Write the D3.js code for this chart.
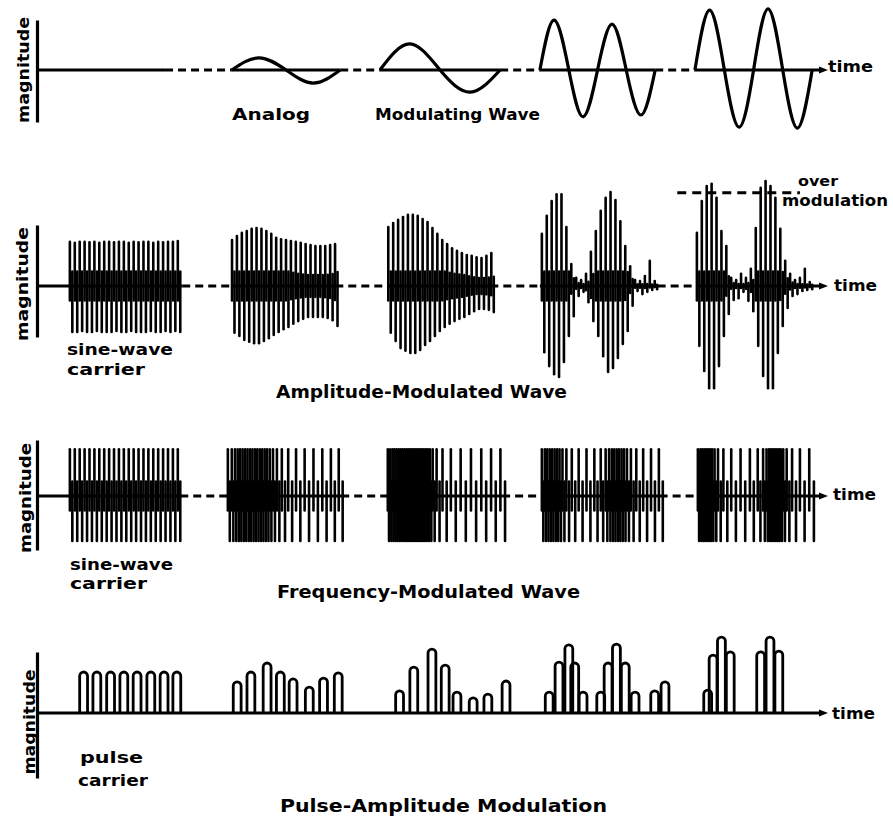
<!DOCTYPE html>
<html><head><meta charset="utf-8">
<script src="https://cdn.jsdelivr.net/npm/d3@7/dist/d3.min.js"></script>
<style>
body{margin:0;background:#fff}
svg{display:block}
text{font-family:"DejaVu Sans",sans-serif;font-weight:bold;fill:#000}
</style>
</head><body>
<svg id="chart" width="893" height="819"></svg>
<script>
// ---------------- DATA ----------------
const timeDomain = [0, 160];

// Panel 1: analog modulating wave (magnitude in % of carrier amplitude)
const analogSpans = [[0, 26.1], [39.7, 61.8], [69.9, 94.4], [102.5, 126.0], [134.1, 160]];
const analogWaveTimes = [
  [39.7, 45.2, 50.75, 56.3, 61.8],
  [69.9, 76.0, 82.15, 88.3, 94.4],
  [102.5, 105.4, 108.4, 111.3, 114.25, 117.2, 120.1, 123.1, 126.0],
  [134.1, 137.1, 140.1, 143.1, 146.05, 149.0, 152.0, 155.0, 158.0]
];
const analogWaveValues = [
  [0, 27, 0, -29, 0],
  [0, 58, 0, -49, 0],
  [0, 111, 0, -104, 0, 102, 0, -100, 0],
  [0, 133, 0, -127, 0, 136, 0, -129, 0]
];
const analogLabels = ["Analog", "Modulating Wave"];

// Panel 2: amplitude-modulated wave
const amSpans = [[0, 29.6], [39.7, 60.8], [71.5, 92.4], [102.5, 126.5], [134.5, 160]];
const amStart = [6.7, 39.75, 71.6, 102.9, 134.5];
const amUpper = [
  [98,96,98,98,97,98,96,98,98,97,98,98,96,98,97,98,98,96,98,97,98,98,100],
  [102,111,118,122,127,129,127,122,116,107,104,102,100,98,96,93,91,89,89,89,91,93],
  [131,140,147,153,158,158,156,149,142,129,116,102,93,84,78,73,69,67,64,62,67,73],
  [116,156,189,204,204,131,49,18,13,27,76,122,167,196,209,191,144,89,44,13,11,22,56,11],
  [118,189,222,227,196,122,89,18,13,27,18,38,129,218,233,222,196,127,56,27,13,18,38,9]
];
const amLower = [
  [102,102,100,102,102,100,102,102,102,100,102,102,100,102,102,102,100,102,102,100,102,100,102],
  [104,111,120,124,127,127,122,116,109,102,96,91,84,78,73,69,69,69,69,71,76,89],
  [104,122,138,144,149,149,142,131,122,111,100,91,84,78,73,69,62,56,51,51,53,58],
  [147,178,196,202,169,111,67,22,13,36,78,111,156,191,182,160,129,100,44,11,18,13,9,7],
  [133,189,227,227,178,111,62,31,27,13,33,56,133,200,227,227,149,89,49,22,18,11,9,7]
];
const overModulationLevel = 207;
const overModulationSpan = [130.5, 155.5];

// Panel 3: frequency-modulated wave
const fmSpans = [[0, 29.2], [38.9, 62.0], [71.5, 94.8], [102.9, 126.9], [134.7, 160]];
const fmStart = [6.7, 38.9, 71.5, 102.9, 134.7];
const fmGaps = [
  [1,1,1,1,1,1,1,1,1,1,1,1,1,1,1,1,1,1,1,1,1,1],
  [0.8,0.65,0.55,0.5,0.5,0.5,0.5,0.5,0.5,0.5,0.5,0.5,0.5,0.5,0.5,0.55,0.65,0.8,1.0,1.3,1.6,1.75,1.8,1.8,1.75,1.6],
  [0.5,0.45,0.4,0.4,0.4,0.4,0.4,0.4,0.4,0.4,0.4,0.4,0.4,0.4,0.4,0.4,0.4,0.4,0.4,0.4,0.45,0.55,0.8,1.2,1.7,2.0,2.1,2.1,2.0,1.9],
  [0.6,0.5,0.5,0.5,0.5,0.5,0.5,0.6,0.8,1.1,1.4,1.6,1.6,1.3,1.0,0.7,0.55,0.5,0.5,0.5,0.5,0.5,0.6,0.8,1.1,1.4,1.6,1.6],
  [0.5,0.4,0.4,0.4,0.4,0.4,0.4,0.5,0.7,1.1,1.6,1.9,1.9,1.6,1.1,0.7,0.5,0.4,0.4,0.4,0.4,0.4,0.4,0.5,0.7,1.1,1.6,1.9]
];
const fmPeak = [104, 100]; // upper, lower

// Panel 4: pulse-amplitude modulation
const pamTimes = [
  [9.5,12.2,15.0,17.7,20.4,23.2,25.9,28.5],
  [40.8,43.6,46.9,49.6,52.2,55.5,58.4,61.4],
  [73.9,76.8,80.5,83.2,85.6,88.9,91.9,95.6],
  [104.4,106.4,108.4,109.6,111.3,114.9,116.4,118.1,119.9,121.9,125.9,128.0],
  [136.7,137.8,139.5,141.3,147.5,149.4,151.2]
];
const pamHeights = [
  [100,100,100,100,100,100,100,100],
  [76,100,122,100,83,63,85,98],
  [54,112,156,117,51,37,46,78],
  [51,124,166,122,51,51,122,168,122,51,54,76],
  [56,141,185,149,149,185,151]
];

const panelTitles = ["Amplitude-Modulated Wave", "Frequency-Modulated Wave", "Pulse-Amplitude Modulation"];
const carrierLabels = [["sine-wave", "carrier"], ["sine-wave", "carrier"], ["pulse", "carrier"]];
const axisTitle = "magnitude";
const timeLabel = "time";

// ---------------- LAYOUT ----------------
const svg = d3.select("#chart");
const x = d3.scaleLinear().domain(timeDomain).range([37, 822]);
const layout = [
  {base: 70,  top: 20,  bot: 122, unit: 0.45, magX: 29, magY: 70,  magLen: 106, timeX: 828, timeY: 72,  timeLen: 45},
  {base: 286, top: 225, bot: 337, unit: 0.45, magX: 28, magY: 284, magLen: 114, timeX: 834, timeY: 291, timeLen: 43},
  {base: 496, top: 440, bot: 550, unit: 0.45, magX: 31, magY: 498, magLen: 110, timeX: 833, timeY: 500, timeLen: 43},
  {base: 713, top: 652, bot: 778, unit: 0.41, magX: 35, magY: 722, magLen: 105, timeX: 832, timeY: 719, timeLen: 43}
];
const yScales = layout.map(L => d3.scaleLinear().domain([-100, 100]).range([L.base + 100 * L.unit, L.base - 100 * L.unit]));

function label(txt, x0, y0, len, size, g) {
  (g || svg).append("text").attr("x", x0).attr("y", y0).attr("font-size", size)
    .attr("textLength", len).attr("lengthAdjust", "spacingAndGlyphs").text(txt);
}

function drawFrame(i, spans, dashed) {
  const L = layout[i];
  const g = svg.append("g");
  const ay = d3.scaleLinear().domain([0, 1]).range([L.bot, L.top]);
  const ax = g.append("g").attr("transform", `translate(${x(0)},0)`)
    .call(d3.axisLeft(ay).tickValues([]).tickSizeOuter(0));
  ax.select(".domain").attr("stroke", "#000").attr("stroke-width", 3.2);
  spans.forEach((s, k) => {
    g.append("line").attr("x1", x(s[0])).attr("x2", x(s[1])).attr("y1", L.base).attr("y2", L.base)
      .attr("stroke", "#000").attr("stroke-width", 3.2);
    if (k < spans.length - 1) {
      const n = spans[k + 1];
      g.append("line").attr("x1", x(s[1])).attr("x2", x(n[0])).attr("y1", L.base).attr("y2", L.base)
        .attr("stroke", "#000").attr("stroke-width", 3.2)
        .attr("stroke-dasharray", dashed ? "8,5" : null);
    }
  });
  const ex = x(timeDomain[1]);
  g.append("path").attr("d", `M${ex - 3},${L.base - 3.5} L${ex + 6},${L.base} L${ex - 3},${L.base + 3.5} Z`).attr("fill", "#000");
  label(timeLabel, L.timeX, L.timeY, L.timeLen, 15, g);
  g.append("text").attr("transform", `translate(${L.magX},${L.magY}) rotate(-90)`)
    .attr("text-anchor", "middle").attr("font-size", 16)
    .attr("textLength", L.magLen).attr("lengthAdjust", "spacingAndGlyphs").text(axisTitle);
}

// ---------- Panel 1 ----------
drawFrame(0, analogSpans, true);
{
  const y = yScales[0];
  const line = d3.line().x(d => x(d[0])).y(d => y(d[1])).curve(d3.curveNatural);
  analogWaveTimes.forEach((ts, k) => {
    svg.append("path").attr("d", line(ts.map((t, j) => [t, analogWaveValues[k][j]])))
      .attr("fill", "none").attr("stroke", "#000").attr("stroke-width", 3.2);
  });
  label(analogLabels[0], 232, 120, 78, 15);
  label(analogLabels[1], 375, 120, 165, 15);
}

function drawStrokes(y, strokes) {
  const g = svg.append("g").attr("stroke", "#000").attr("stroke-width", 2.6).attr("stroke-linecap", "round");
  strokes.forEach(s => {
    const ovl = Math.min(32, 0.35 * Math.min(s.up, s.down));
    g.append("line").attr("x1", x(s.t)).attr("x2", x(s.t)).attr("y1", y(-ovl)).attr("y2", y(s.up));
    g.append("line").attr("x1", x(s.t + s.half)).attr("x2", x(s.t + s.half)).attr("y1", y(ovl)).attr("y2", y(-s.down));
  });
}

// ---------- Panel 2: AM ----------
drawFrame(1, amSpans, true);
{
  const y = yScales[1];
  amStart.forEach((t0, k) => {
    const strokes = amUpper[k].map((u, i) => ({t: t0 + i, half: 0.5, up: u, down: amLower[k][i]}));
    drawStrokes(y, strokes);
  });
  svg.append("line").attr("x1", x(overModulationSpan[0])).attr("x2", x(overModulationSpan[1]))
    .attr("y1", y(overModulationLevel)).attr("y2", y(overModulationLevel))
    .attr("stroke", "#000").attr("stroke-width", 3).attr("stroke-dasharray", "9,6");
  label("over", 798, 186, 40, 14);
  label("modulation", 782, 206, 106, 15);
  label(carrierLabels[0][0], 67, 355, 106, 16);
  label(carrierLabels[0][1], 67, 375, 78, 16);
  label(panelTitles[0], 276, 398, 291, 17);
}

// ---------- Panel 3: FM ----------
drawFrame(2, fmSpans, true);
{
  const y = yScales[2];
  fmStart.forEach((t0, k) => {
    const gaps = fmGaps[k];
    const strokes = [];
    let t = t0;
    for (let i = 0; i <= gaps.length; i++) {
      const gap = gaps[Math.min(i, gaps.length - 1)];
      strokes.push({t: t, half: gap / 2, up: fmPeak[0], down: fmPeak[1]});
      if (i < gaps.length) t += gaps[i];
    }
    drawStrokes(y, strokes);
  });
  label(carrierLabels[1][0], 70, 570, 103, 16);
  label(carrierLabels[1][1], 70, 589, 77, 16);
  label(panelTitles[1], 277, 598, 303, 17);
}

// ---------- Panel 4: PAM ----------
drawFrame(3, [[0, 160]], false);
{
  const y = yScales[3];
  const L = layout[3];
  const w = 1.6;
  const g = svg.append("g").attr("fill", "none").attr("stroke", "#000").attr("stroke-width", 2.8);
  pamTimes.forEach((ts, k) => {
    ts.forEach((t, i) => {
      const x0 = x(t - w / 2), x1 = x(t + w / 2), r = (x1 - x0) / 2;
      const top = y(pamHeights[k][i]);
      g.append("path").attr("d", `M${x0},${L.base} L${x0},${top + r} A${r},${r} 0 0 1 ${x1},${top + r} L${x1},${L.base}`);
    });
  });
  label(carrierLabels[2][0], 80, 763, 63, 16);
  label(carrierLabels[2][1], 78, 786, 70, 16);
  label(panelTitles[2], 280, 812, 327, 17);
}
</script>
</body></html>
